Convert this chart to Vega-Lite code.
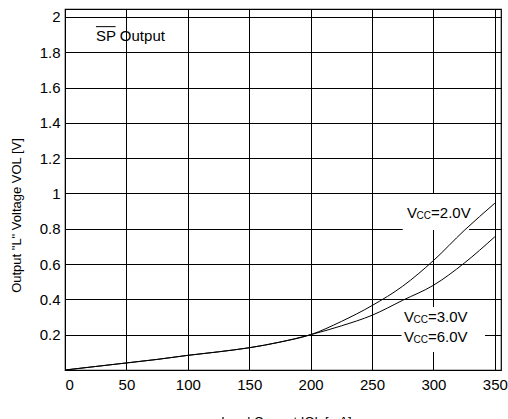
{
  "$schema": "https://vega.github.io/schema/vega-lite/v6.json",
  "autosize": "none",
  "width": 436,
  "height": 361,
  "padding": {"left": 65, "top": 9, "right": 7, "bottom": 49},
  "background": "white",
  "config": {
    "font": "Liberation Sans",
    "view": {"stroke": "#000", "strokeWidth": 1.2},
    "axis": {
      "grid": true, "gridColor": "#000", "gridOpacity": 1, "gridWidth": 1,
      "domain": false, "ticks": false,
      "labelFont": "Liberation Sans", "labelFontSize": 15, "labelColor": "#000",
      "titleFont": "Liberation Sans", "titleFontSize": 13, "titleFontWeight": "normal", "titleColor": "#000"
    }
  },
  "datasets": {
    "curves": [
      {"I": 0, "V": 0, "s": "2.0V"}, {"I": 25, "V": 0.02, "s": "2.0V"}, {"I": 50, "V": 0.04, "s": "2.0V"},
      {"I": 75, "V": 0.06, "s": "2.0V"}, {"I": 100, "V": 0.083, "s": "2.0V"}, {"I": 125, "V": 0.103, "s": "2.0V"},
      {"I": 150, "V": 0.126, "s": "2.0V"}, {"I": 175, "V": 0.158, "s": "2.0V"}, {"I": 200, "V": 0.2, "s": "2.0V"},
      {"I": 225, "V": 0.275, "s": "2.0V"}, {"I": 250, "V": 0.365, "s": "2.0V"}, {"I": 275, "V": 0.475, "s": "2.0V"},
      {"I": 300, "V": 0.62, "s": "2.0V"}, {"I": 325, "V": 0.79, "s": "2.0V"}, {"I": 350, "V": 0.945, "s": "2.0V"},
      {"I": 0, "V": 0, "s": "3.0V/6.0V"}, {"I": 25, "V": 0.02, "s": "3.0V/6.0V"}, {"I": 50, "V": 0.04, "s": "3.0V/6.0V"},
      {"I": 75, "V": 0.06, "s": "3.0V/6.0V"}, {"I": 100, "V": 0.083, "s": "3.0V/6.0V"}, {"I": 125, "V": 0.103, "s": "3.0V/6.0V"},
      {"I": 150, "V": 0.126, "s": "3.0V/6.0V"}, {"I": 175, "V": 0.158, "s": "3.0V/6.0V"}, {"I": 200, "V": 0.2, "s": "3.0V/6.0V"},
      {"I": 225, "V": 0.25, "s": "3.0V/6.0V"}, {"I": 250, "V": 0.31, "s": "3.0V/6.0V"}, {"I": 275, "V": 0.395, "s": "3.0V/6.0V"},
      {"I": 300, "V": 0.48, "s": "3.0V/6.0V"}, {"I": 325, "V": 0.605, "s": "3.0V/6.0V"}, {"I": 350, "V": 0.755, "s": "3.0V/6.0V"}
    ],
    "boxes": [
      {"x1": 275, "x2": 329, "y1": 0.793, "y2": 0.997},
      {"x1": 274, "x2": 342, "y1": 0.102, "y2": 0.357}
    ],
    "labels": [
      {"lx": 278.5, "ly": 0.89, "rest": "=2.0V"},
      {"lx": 276, "ly": 0.30, "rest": "=3.0V"},
      {"lx": 276, "ly": 0.187, "rest": "=6.0V"}
    ],
    "title": [{"lx": 25.2, "ly": 1.89, "t": "SP Output", "ox1": 25.2, "ox2": 41.2, "oy": 1.945}]
  },
  "layer": [
    {
      "data": {"name": "boxes"},
      "mark": {"type": "rect", "fill": "white", "stroke": null},
      "encoding": {
        "x": {"field": "x1", "type": "quantitative", "scale": {"domain": [0, 355], "nice": false, "zero": false},
          "axis": {"values": [0,25,50,75,100,125,150,175,200,225,250,275,300,325,350],
            "labelExpr": "datum.value % 50 == 0 ? '' + datum.value : ''",
            "labelPadding": 7,
            "title": "Load Current IOL [mA]", "titleX": 221, "titleY": 45, "titleBaseline": "top", "titleAlign": "center"}},
        "x2": {"field": "x2"},
        "y": {"field": "y1", "type": "quantitative", "scale": {"domain": [0, 2.045], "nice": false, "zero": false},
          "axis": {"values": [0.2,0.4,0.6,0.8,1,1.2,1.4,1.6,1.8,2],
            "labelExpr": "'' + datum.value", "labelPadding": 5,
            "title": "Output \"L\" Voltage VOL [V]", "titleX": -49, "titleY": 206, "titleAngle": 270,
            "titleAlign": "center", "titleBaseline": "middle"}},
        "y2": {"field": "y2"}
      }
    },
    {
      "data": {"name": "curves"},
      "mark": {"type": "line", "color": "#000", "strokeWidth": 1, "interpolate": "monotone"},
      "encoding": {
        "x": {"field": "I", "type": "quantitative"},
        "y": {"field": "V", "type": "quantitative"},
        "detail": {"field": "s"}
      }
    },
    {
      "data": {"name": "labels"},
      "mark": {"type": "text", "text": "V", "align": "left", "baseline": "middle", "fontSize": 15, "color": "#000"},
      "encoding": {"x": {"field": "lx", "type": "quantitative"}, "y": {"field": "ly", "type": "quantitative"}}
    },
    {
      "data": {"name": "labels"},
      "mark": {"type": "text", "text": "CC", "align": "left", "baseline": "middle", "fontSize": 10, "dx": 9.5, "dy": 3, "color": "#000"},
      "encoding": {"x": {"field": "lx", "type": "quantitative"}, "y": {"field": "ly", "type": "quantitative"}}
    },
    {
      "data": {"name": "labels"},
      "mark": {"type": "text", "align": "left", "baseline": "middle", "fontSize": 15, "dx": 24, "color": "#000"},
      "encoding": {"x": {"field": "lx", "type": "quantitative"}, "y": {"field": "ly", "type": "quantitative"}, "text": {"field": "rest"}}
    },
    {
      "data": {"name": "title"},
      "mark": {"type": "text", "align": "left", "baseline": "middle", "fontSize": 15, "color": "#000"},
      "encoding": {"x": {"field": "lx", "type": "quantitative"}, "y": {"field": "ly", "type": "quantitative"}, "text": {"field": "t"}}
    },
    {
      "data": {"name": "title"},
      "mark": {"type": "rule", "color": "#000", "strokeWidth": 1},
      "encoding": {"x": {"field": "ox1", "type": "quantitative"}, "x2": {"field": "ox2"}, "y": {"field": "oy", "type": "quantitative"}}
    }
  ]
}
